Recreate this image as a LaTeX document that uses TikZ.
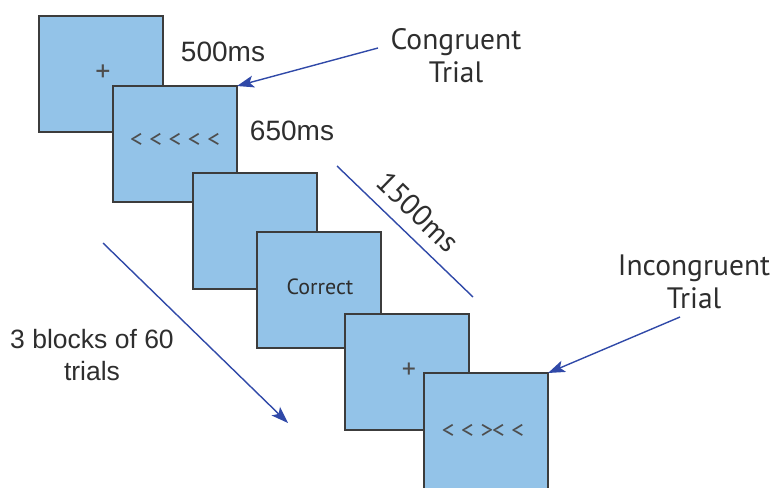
\documentclass[tikz,border=0pt]{standalone}
\usepackage{fontspec}
\setmainfont{Liberation Sans}
\newfontfamily\arialf{Liberation Sans}
\newfontfamily\humanf{PT Sans}
\usetikzlibrary{arrows.meta}
\definecolor{slidefill}{HTML}{93C3E8}
\definecolor{slideedge}{HTML}{3C3C3C}
\definecolor{arrowblue}{HTML}{3049A8}
\definecolor{inktext}{HTML}{2E2E2E}
\tikzset{
  slide/.style={draw=slideedge, line width=1.5pt, fill=slidefill,
    minimum width=124pt, minimum height=116pt, anchor=north west,
    inner sep=0pt, outer sep=0pt},
  stim/.style={text=inktext!85, font=\humanf\fontsize{25}{27}\selectfont, inner sep=0pt},
  timing/.style={text=inktext, font=\arialf\fontsize{28}{30}\selectfont, inner sep=0pt},
  callout/.style={text=inktext, font=\humanf\fontsize{29.5}{33}\selectfont, align=center, inner sep=0pt},
  pointer/.style={draw=arrowblue, line width=1.4pt, -{Stealth[length=17pt,width=12pt,inset=4pt]}},
  span/.style={draw=arrowblue, line width=1.4pt}
}
\begin{document}
\begin{tikzpicture}[x=1pt,y=-1pt]
\useasboundingbox (0,0) rectangle (775,487);

% trial screens, each drawn over the previous one
\node[slide] (b1) at (39,16) {};
\node[slide] (b2) at (113,86) {};
\node[slide] (b3) at (193,173) {};
\node[slide] (b4) at (257,232) {};
\node[slide] (b5) at (345,314) {};
\node[slide] (b6) at (424,373) {};

% screen contents
\node[stim, font=\humanf\fontsize{30}{30}\selectfont] (fix1) at (103,73) {+};
\node[stim] (flank1) at (175,140) {<\ <\ <\ <\ <};
\node[stim, text=inktext, font=\humanf\fontsize{22}{24}\selectfont] (fb) at (320,287) {Correct};
\node[stim, font=\humanf\fontsize{28}{28}\selectfont] (fix2) at (409,371) {+};
\node[stim] (flank2) at (483,431) {<\ <\ >\kern-1pt<\ <};

% durations
\node[timing] (t500) at (223,52) {500ms};
\node[timing] (t650) at (292,131) {650ms};
\coordinate (s1) at (337,166);
\coordinate (s2) at (473,297);
\draw[span] (s1) -- (s2);
\node[callout, rotate=-44] (t1500) at (418,212) {1500ms};

% trial-type callouts
\node[callout] (cong) at (456,56) {Congruent\\Trial};
\coordinate (congtail) at (378,48);
\draw[pointer] (congtail) -- (b2.north east);

\node[callout] (incong) at (694,282) {Incongruent\\Trial};
\coordinate (incongtail) at (680,317);
\draw[pointer] (incongtail) -- (b6.north east);

% block count
\node[timing, font=\arialf\fontsize{26.5}{32}\selectfont, align=center] (blocks) at (92,355) {3 blocks of 60\\trials};
\coordinate (bk1) at (103,243);
\coordinate (bk2) at (288,423);
\draw[pointer] (bk1) -- (bk2);
\end{tikzpicture}
\end{document}
